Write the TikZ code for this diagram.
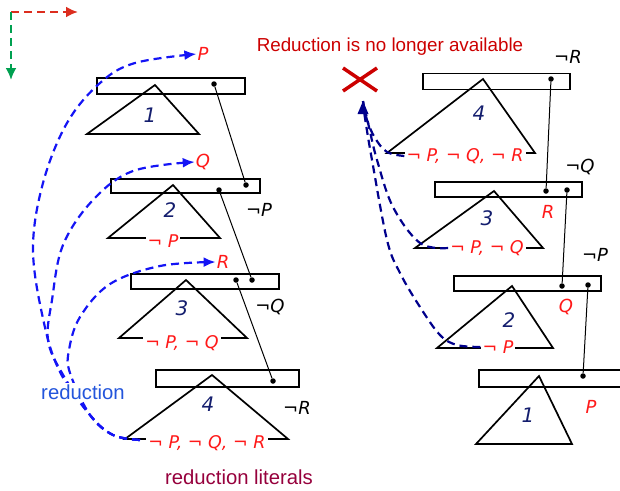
\documentclass[tikz,border=0pt]{standalone}
\usepackage{fontspec}
\setmainfont{Liberation Sans}
\newfontfamily\vfont{DejaVu Sans}
\usetikzlibrary{arrows.meta}

\definecolor{titlered}{RGB}{204,0,0}
\definecolor{litred}{RGB}{255,25,25}
\definecolor{redblue}{RGB}{20,20,245}
\definecolor{redtxt}{RGB}{35,85,220}
\definecolor{navyarr}{RGB}{0,0,140}
\definecolor{numcol}{RGB}{20,30,110}
\definecolor{maroon}{RGB}{150,0,60}
\definecolor{axgreen}{RGB}{0,160,80}
\definecolor{axred}{RGB}{220,45,30}

\begin{document}
\begin{tikzpicture}[x=1pt,y=-1pt,
  box/.style={draw,line width=1.7pt,inner sep=0pt,minimum height=15pt},
  tri/.style={line width=1.7pt,line join=miter},
  conn/.style={line width=1pt},
  dot/.style={circle,fill,inner sep=0pt,minimum size=5.5pt},
  num/.style={font=\vfont\itshape\fontsize{20}{20}\selectfont,text=numcol},
  lit/.style={font=\vfont\itshape\fontsize{17.5}{17.5}\selectfont,text=litred,fill=white,inner sep=2pt},
  side/.style={font=\vfont\itshape\fontsize{18}{18}\selectfont,inner sep=1pt},
  redlbl/.style={side,text=litred},
  reddash/.style={draw=redblue,line width=2.2pt,dash pattern=on 8pt off 5pt,
    -{Latex[length=12pt,width=10pt]}},
  navydash/.style={draw=navyarr,line width=2.2pt,dash pattern=on 8pt off 5pt},
  axis/.style={line width=2.4pt,dash pattern=on 8pt off 5pt,-{Latex[length=12pt,width=11pt]}}
]
\useasboundingbox (0,0) rectangle (620,490);

% orientation arrows in the corner
\coordinate (o) at (11,12);
\coordinate (ox) at (78,12);
\coordinate (oy) at (11,80);
\draw[axis,axred] (o) -- (ox);
\draw[axis,axgreen] (o) -- (oy);

% ---------- left stack ----------
\draw[tri] (155,85) -- (87,134) -- (199,134) -- cycle;
\draw[tri] (173,185) -- (108,238) -- (220,238) -- cycle;
\draw[tri] (186,280) -- (119,338) -- (247,338) -- cycle;
\draw[tri] (212,375) -- (125,439) -- (288,439) -- cycle;

\node[box,minimum width=148pt,minimum height=16pt] (b1) at (171,86) {};
\node[box,minimum width=149pt,minimum height=14pt] (b2) at (185.5,186) {};
\node[box,minimum width=148pt] (b3) at (205,281.5) {};
\node[box,minimum width=143pt,minimum height=17pt] (b4) at (227.5,378.5) {};

\node[num] (n1) at (150,115) {1};
\node[num] (n2) at (170,210) {2};
\node[num] (n3) at (182,308) {3};
\node[num] (n4) at (208,404) {4};

\node[lit] (l2) at (163,241) {¬ P};
\node[lit] (l3) at (182,343) {¬ P, ¬ Q};
\node[lit] (l4) at (207,443) {¬ P, ¬ Q, ¬ R};

\node[dot] (d1) at (214,84) {};
\node[dot] (d2a) at (246,185) {};
\node[dot] (d2b) at (219,190) {};
\node[dot] (d3a) at (252,280) {};
\node[dot] (d3b) at (236,280) {};
\node[dot] (d4) at (273,381) {};
\draw[conn] (d1) -- (d2a);
\draw[conn] (d2b) -- (d3a);
\draw[conn] (d3b) -- (d4);

\node[side] (np2) at (259,210) {¬P};
\node[side] (nq3) at (270,307) {¬Q};
\node[side] (nr4) at (297,408) {¬R};

\node[redlbl] (P) at (203,54) {P};
\node[redlbl] (Q) at (203,162) {Q};
\node[redlbl] (R) at (223,262) {R};

% reduction arcs
\coordinate (s4) at (140,440);
\draw[reddash] plot[smooth,tension=0.6] coordinates {(s4) (113,435) (90,415) (60,372) (44,323) (33,250) (43,183) (67,123) (100,83) (135,63) (P.west)};
\draw[reddash] plot[smooth,tension=0.6] coordinates {(s4) (113,435) (90,415) (62,373) (48,340) (52,300) (63,245) (93,200) (133,171) (Q.west)};
\draw[reddash] plot[smooth,tension=0.6] coordinates {(s4) (113,435) (90,415) (70,373) (69,350) (80,317) (110,284) (160,266) (R.west)};

\node[font=\fontsize{20.3}{20.3}\selectfont,text=redtxt,fill=white,inner sep=2pt] (red) at (83,392) {reduction};
\node[font=\fontsize{20.3}{20.3}\selectfont,text=maroon] (redlit) at (239,477) {reduction literals};

% ---------- right stack ----------
\node[font=\fontsize{18.8}{18.8}\selectfont,text=titlered] (title) at (390,47) {Reduction is no longer available};
\draw[titlered,line width=3.5pt] (343,68) -- (377,91) (343,91) -- (377,68);

\draw[tri] (483,79) -- (387,153) -- (535,153) -- cycle;
\draw[tri] (494,191) -- (415,248) -- (543,248) -- cycle;
\draw[tri] (512,286) -- (437,348) -- (553,348) -- cycle;
\draw[tri] (539,376) -- (476,444) -- (572,444) -- cycle;

\node[box,minimum width=147pt,minimum height=16pt] (rb4) at (496.5,81.5) {};
\node[box,minimum width=147pt] (rb3) at (508.5,189.5) {};
\node[box,minimum width=147pt] (rb2) at (527.5,283.5) {};
\node[box,minimum width=150pt,minimum height=17pt] (rb1) at (554,378.5) {};

\node[num] (m4) at (479,113) {4};
\node[num] (m3) at (487,218) {3};
\node[num] (m2) at (509,320) {2};
\node[num] (m1) at (528,415) {1};

\node[lit] (k4) at (465,156) {¬ P, ¬ Q, ¬ R};
\node[lit] (k3) at (487,248) {¬ P, ¬ Q};
\node[lit] (k2) at (498,347) {¬ P};

\node[dot] (e4) at (551,79) {};
\node[dot] (e3a) at (546,191) {};
\node[dot] (e3b) at (567,190) {};
\node[dot] (e2a) at (562,286) {};
\node[dot] (e2b) at (588,285) {};
\node[dot] (e1) at (583,376) {};
\draw[conn] (e4) -- (e3a);
\draw[conn] (e3b) -- (e2a);
\draw[conn] (e2b) -- (e1);

\node[side] (mr4) at (568,57) {¬R};
\node[side] (mq3) at (580,167) {¬Q};
\node[side] (mp2) at (595,255) {¬P};
\node[redlbl] (mR) at (548,212) {R};
\node[redlbl] (mQ) at (566,307) {Q};
\node[redlbl] (mP) at (591,407) {P};

% blocked reduction arcs
\coordinate (tip) at (363,101);
\draw[navydash] plot[smooth,tension=0.6] coordinates {(k4.west) (387,152) (375,138) (367,120) (tip)};
\draw[navydash] plot[smooth,tension=0.6] coordinates {(k3.west) (420,243) (393,207) (377,160) (369,127) (tip)};
\draw[navydash] plot[smooth,tension=0.6] coordinates {(k2.west) (457,345) (440,335) (420,307) (400,273) (387,240) (372,160) (365,118) (tip)};
\fill[navyarr] (tip) -- ++(-5.5,13) -- ++(11,0) -- cycle;
\end{tikzpicture}
\end{document}
